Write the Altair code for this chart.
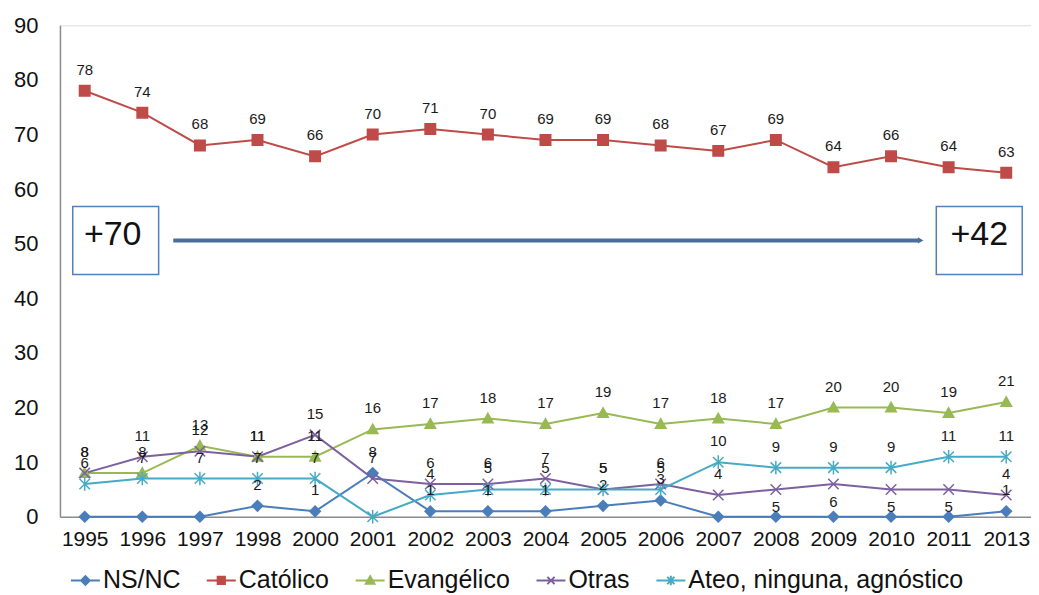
import altair as alt
import pandas as pd

years = ["1995", "1996", "1997", "1998", "2000", "2001", "2002", "2003", "2004",
         "2005", "2006", "2007", "2008", "2009", "2010", "2011", "2013"]
series_names = ["NS/NC", "Católico", "Evangélico", "Otras", "Ateo, ninguna, agnóstico"]
ns_nc = [0, 0, 0, 2, 1, 8, 1, 1, 1, 2, 3, 0, 0, 0, 0, 0, 1]
catolico = [78, 74, 68, 69, 66, 70, 71, 70, 69, 69, 68, 67, 69, 64, 66, 64, 63]
evangelico = [8, 8, 13, 11, 11, 16, 17, 18, 17, 19, 17, 18, 17, 20, 20, 19, 21]
otras = [8, 11, 12, 11, 15, 7, 6, 6, 7, 5, 6, 4, 5, 6, 5, 5, 4]
ateo = [6, 7, 7, 7, 7, 0, 4, 5, 5, 5, 5, 10, 9, 9, 9, 11, 11]
colors = ["#4a7ebb", "#be4b48", "#98b954", "#7d60a0", "#46aac5"]

# years where the "Otras" label sits under its marker in the original
otras_label_below = ["2008", "2009", "2010", "2011"]

# annotation texts
ann_left_text = ["+70"]
ann_right_text = ["+42"]
ann_left_year = ["1995"]
ann_right_year = ["2013"]
ann_level = [50.6]
arrow_from = ["1996"]
arrow_to = ["2011"]

# marker shapes (unit square -1..1)
marker_paths = [
    "M0,-1L1,0L0,1L-1,0Z",
    "M-1,-1L1,-1L1,1L-1,1Z",
    "M0,-1L1,0.8L-1,0.8Z",
    "M-1,-1L1,1M-1,1L1,-1",
    "M-1,-1L1,1M-1,1L1,-1M0,-1.3L0,1.3",
]
legend_paths = [
    "M-1,0L1,0M0,-0.3L0.3,0L0,0.3L-0.3,0Z",
    "M-1,0L1,0M-0.25,-0.25L0.25,-0.25L0.25,0.25L-0.25,0.25Z",
    "M-1,0L1,0M0,-0.3L0.3,0.22L-0.3,0.22Z",
    "M-1,0L1,0M-0.25,-0.25L0.25,0.25M-0.25,0.25L0.25,-0.25",
    "M-1,0L1,0M-0.25,-0.25L0.25,0.25M-0.25,0.25L0.25,-0.25M0,-0.33L0,0.33",
]

rows = []
for name, vals in zip(series_names, [ns_nc, catolico, evangelico, otras, ateo]):
    for y, v in zip(years, vals):
        below = (name == "Otras") and (y in otras_label_below)
        rows.append({"year": y, "serie": name, "valor": v, "below": below})
df = pd.DataFrame(rows)

FONT = "Liberation Sans"

xenc = alt.X("year:O", sort=years, title=None,
             scale=alt.Scale(type="point", padding=0.43, domain=years),
             axis=alt.Axis(labelAngle=0, labelFontSize=21, labelFont=FONT, labelColor="#111111",
                           ticks=False, domainColor="#8c8c8c", domainWidth=1.5, labelPadding=12))
yenc = alt.Y("valor:Q", title=None,
             scale=alt.Scale(domain=[0, 90], nice=False),
             axis=alt.Axis(values=list(range(0, 100, 10)), grid=False, ticks=False,
                           labelFontSize=22, labelFont=FONT, labelColor="#111111",
                           labelPadding=22,
                           domainColor="#8c8c8c", domainWidth=1.5))

base = alt.Chart(df)

lines = base.mark_line(strokeWidth=2).encode(
    x=xenc, y=yenc,
    color=alt.Color("serie:N", scale=alt.Scale(domain=series_names, range=colors), legend=None),
    detail="serie:N",
)

pts = base.mark_point(filled=True, size=110, strokeWidth=1.5, opacity=1).encode(
    x=xenc, y=yenc,
    fill=alt.Fill("serie:N", scale=alt.Scale(domain=series_names, range=colors), legend=None),
    stroke=alt.Stroke("serie:N", scale=alt.Scale(domain=series_names, range=colors), legend=None),
    shape=alt.Shape("serie:N", scale=alt.Scale(domain=series_names, range=marker_paths), legend=None),
)

labels_above = base.transform_filter("datum.valor > 0 && !datum.below").mark_text(
    dy=-21, fontSize=15, font=FONT, color="#1a1a1a", baseline="middle"
).encode(x=xenc, y=yenc, text="valor:Q")
labels_below = base.transform_filter("datum.valor > 0 && datum.below").mark_text(
    dy=18, fontSize=15, font=FONT, color="#1a1a1a", baseline="middle"
).encode(x=xenc, y=yenc, text="valor:Q")

leg = alt.Legend(title=None, orient="none", legendX=10, legendY=540,
                 direction="horizontal", columns=5, labelFontSize=25, labelFont=FONT,
                 labelColor="#111111", symbolSize=841, symbolStrokeWidth=2,
                 symbolOpacity=1, columnPadding=22, labelOffset=2, labelLimit=500)

legend_layer = base.transform_calculate(leyenda="datum.serie").transform_filter("false").mark_point(
    filled=True
).encode(
    fill=alt.Fill("leyenda:N", scale=alt.Scale(domain=series_names, range=colors), legend=leg),
    stroke=alt.Stroke("leyenda:N", scale=alt.Scale(domain=series_names, range=colors), legend=leg),
    shape=alt.Shape("leyenda:N", scale=alt.Scale(domain=series_names, range=legend_paths), legend=leg),
)

box_l = pd.DataFrame({"year": ann_left_year, "valor": ann_level, "t": ann_left_text})
box_r = pd.DataFrame({"year": ann_right_year, "valor": ann_level, "t": ann_right_text})
arrow_df = pd.DataFrame({"year": arrow_from, "year2": arrow_to, "valor": ann_level})

box_path = "M-1,-0.79L1,-0.79L1,0.79L-1,0.79Z"
box_left = alt.Chart(box_l).mark_point(shape=box_path, size=86 * 86, filled=False,
                                       stroke="#4f81bd", strokeWidth=1.5, opacity=1,
                                       xOffset=31).encode(x=xenc, y=yenc)
box_right = alt.Chart(box_r).mark_point(shape=box_path, size=86 * 86, filled=False,
                                        stroke="#4f81bd", strokeWidth=1.5, opacity=1,
                                        xOffset=-27).encode(x=xenc, y=yenc)
txt_left = alt.Chart(box_l).mark_text(fontSize=34, font=FONT, color="#111111",
                                      xOffset=28, dy=-5).encode(x=xenc, y=yenc, text="t:N")
txt_right = alt.Chart(box_r).mark_text(fontSize=34, font=FONT, color="#111111",
                                       xOffset=-27, dy=-5).encode(x=xenc, y=yenc, text="t:N")
arrow = alt.Chart(arrow_df).mark_rule(strokeWidth=4, color="#4a6d9c", xOffset=31,
                                      x2Offset=-30).encode(x=xenc, x2="year2:O", y=yenc)
head = alt.Chart(arrow_df).mark_point(shape="triangle-right", size=40, filled=True,
                                      color="#4a6d9c", opacity=1, xOffset=-28).encode(
    x=alt.X("year2:O", sort=years, scale=alt.Scale(type="point", padding=0.43, domain=years)),
    y=yenc)

chart = alt.layer(
    lines, pts, labels_above, labels_below, box_left, box_right, txt_left, txt_right,
    arrow, head, legend_layer
).resolve_scale(
    shape="independent", fill="independent", stroke="independent", color="independent"
).properties(
    width=972, height=492,
    autosize=alt.AutoSizeParams(type="none"),
    padding={"left": 52, "top": 17, "right": 0, "bottom": 78},
).configure_view(stroke=None).configure(background="white")

chart.save("out.html", embed_options={"renderer": "svg", "actions": False})
